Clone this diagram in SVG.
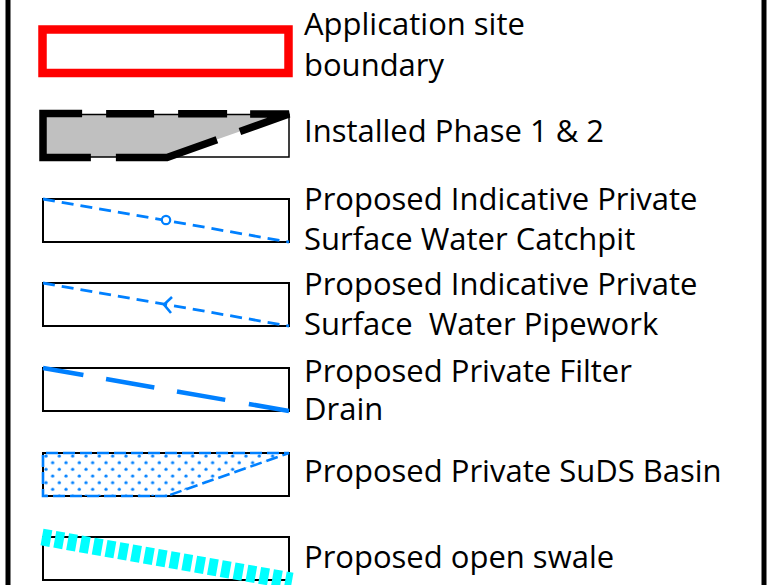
<svg xmlns="http://www.w3.org/2000/svg" width="783" height="585" viewBox="0 0 783 585">
<style>
text{font-family:"Open Sans","Liberation Sans",sans-serif;font-size:31px;fill:#000;white-space:pre}
.box{fill:none;stroke:#000;stroke-width:2}
.thin{fill:none;stroke:#0080ff;stroke-width:2.8;stroke-dasharray:12 7}
</style>
<defs>
<pattern id="dots" patternUnits="userSpaceOnUse" x="43" y="453" width="13.33" height="13.33">
<circle cx="3" cy="3" r="1.6" fill="#0080ff"/>
<circle cx="9.67" cy="9.67" r="1.6" fill="#0080ff"/>
</pattern>
</defs>
<rect width="783" height="585" fill="#fff"/>
<line x1="8" y1="0" x2="8" y2="585" stroke="#000" stroke-width="5"/>
<line x1="764" y1="0" x2="764" y2="585" stroke="#000" stroke-width="5"/>

<g id="legend-boundary">
<rect x="42.5" y="29.5" width="246" height="43.5" fill="none" stroke="#ff0000" stroke-width="8.5"/>
<text x="304" y="35">Application site</text>
<text x="304" y="76">boundary</text>
</g>

<g id="legend-installed">
<polygon points="43,114 289,114 167,157 43,157" fill="#c0c0c0"/>
<rect x="43" y="114.5" width="246" height="42.5" fill="none" stroke="#000" stroke-width="1.5"/>
<path d="M117,157.5 L167,157.5 L289,114 L43,113.5 L43,157.5 Z" fill="none" stroke="#000" stroke-width="7.5" stroke-dasharray="103 24.4 91 23 49 24 48 24 131 25"/>
<text x="304" y="142">Installed Phase 1 &amp; 2</text>
</g>

<g id="legend-catchpit">
<rect class="box" x="43" y="199" width="246" height="43"/>
<line class="thin" x1="43" y1="199" x2="289" y2="242"/>
<circle cx="166" cy="220" r="4.2" fill="#fff" stroke="#0080ff" stroke-width="2.2"/>
<text x="304" y="210">Proposed Indicative Private</text>
<text x="304" y="250">Surface Water Catchpit</text>
</g>

<g id="legend-pipework">
<rect class="box" x="43" y="283" width="246" height="43"/>
<line class="thin" x1="43" y1="283" x2="289" y2="326"/>
<path d="M172,297 L164,304.5 L171,313" fill="none" stroke="#0080ff" stroke-width="2.6"/>
<text x="304" y="295">Proposed Indicative Private</text>
<text x="304" y="335">Surface  Water Pipework</text>
</g>

<g id="legend-filter">
<rect class="box" x="43" y="368" width="246" height="43"/>
<line x1="43" y1="368" x2="289" y2="411" stroke="#0080ff" stroke-width="4.5" stroke-dasharray="41 23 49 23 49 24 41"/>
<text x="304" y="382">Proposed Private Filter</text>
<text x="304" y="420">Drain</text>
</g>

<g id="legend-suds">
<rect class="box" x="43" y="453" width="246" height="43"/>
<polygon points="43,453 289,453 167,496 43,496" fill="url(#dots)"/>
<path d="M167,496 L43,496 L43,453 L289,453 L167,496" fill="none" stroke="#0080ff" stroke-width="2.6" stroke-dasharray="12 5"/>
<text x="304" y="482">Proposed Private SuDS Basin</text>
</g>

<g id="legend-swale">
<rect class="box" x="43" y="537" width="246" height="43"/>
<line x1="42" y1="537" x2="292" y2="581" stroke="#00ffff" stroke-width="17" stroke-dasharray="9 4"/>
<text x="304" y="568">Proposed open swale</text>
</g>
</svg>
